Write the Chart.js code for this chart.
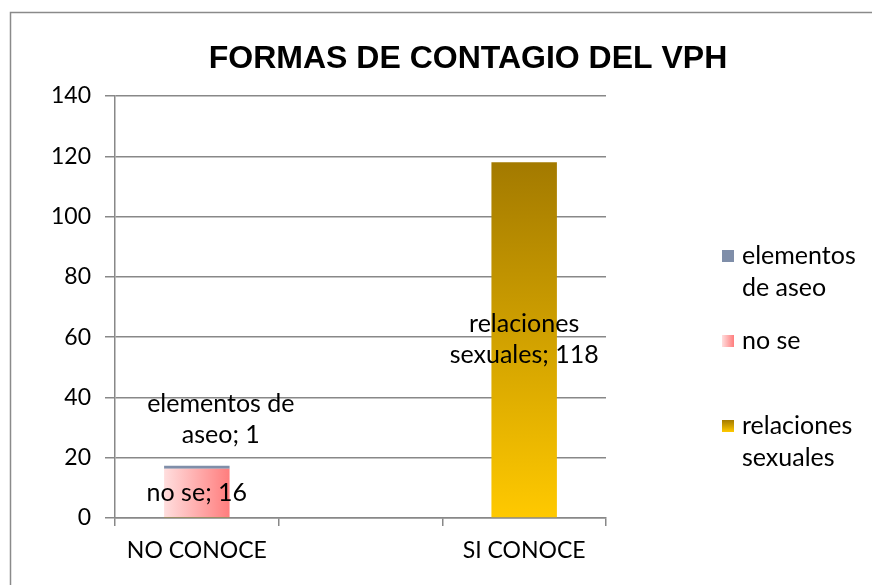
<!DOCTYPE html>
<html>
<head>
<meta charset="utf-8">
<script src="https://cdn.jsdelivr.net/npm/chart.js@4"></script>
<style>
  html, body { margin: 0; padding: 0; background: #fff; }
  #wrap { width: 872px; height: 585px; }
</style>
</head>
<body>
<div id="wrap"><canvas id="c" width="872" height="585"></canvas></div>
<script>
const titleText = "FORMAS DE CONTAGIO DEL VPH";
const categories = ["NO CONOCE", "", "SI CONOCE"];
const seriesNames = ["relaciones sexuales", "no se", "elementos de aseo"];
const relacionesSexuales = [0.3, 0, 118];
const noSe = [16, 0, 0];
const elementosDeAseo = [1, 0, 0];
const yMin = 0, yMax = 140, yStep = 20;

const FONT = "Lato, 'Open Sans', sans-serif";
const GRID = "#888888";

function goldFill(context) {
  const chart = context.chart;
  if (!chart.chartArea || context.type !== "data") return "#e0a800";
  const y = chart.scales.y;
  const top = y.getPixelForValue(context.raw);
  const base = y.getPixelForValue(0);
  if (base - top < 0.5) return "#c88f00";
  const g = chart.ctx.createLinearGradient(0, top, 0, base);
  g.addColorStop(0, "#a37a00");
  g.addColorStop(1, "#ffc900");
  return g;
}

function pinkFill(context) {
  const chart = context.chart;
  if (!chart.chartArea || context.type !== "data") return "#ffaaaa";
  const x = chart.scales.x;
  const cx = x.getPixelForValue(context.dataIndex);
  const w = (x.getPixelForValue(1) - x.getPixelForValue(0)) * 0.4;
  const g = chart.ctx.createLinearGradient(cx - w / 2, 0, cx + w / 2, 0);
  g.addColorStop(0, "#ffdede");
  g.addColorStop(1, "#ff7d7d");
  return g;
}

const seriesColors = [goldFill, pinkFill, "#7f8ea9"];
const seriesValues = [relacionesSexuales, noSe, elementosDeAseo];

function wrap(ctx, text, maxW) {
  const words = text.split(" ");
  const lines = [];
  let cur = "";
  for (const w of words) {
    const t = cur ? cur + " " + w : w;
    if (cur && ctx.measureText(t).width > maxW) { lines.push(cur); cur = w; }
    else cur = t;
  }
  if (cur) lines.push(cur);
  return lines;
}

const decor = {
  id: "decor",
  afterDraw(chart) {
    const ctx = chart.ctx;
    ctx.save();
    // frame
    ctx.strokeStyle = "#8a8a8a";
    ctx.lineWidth = 1.5;
    ctx.strokeRect(10.5, 12.5, 870, 580);
    // title
    ctx.fillStyle = "#000";
    ctx.font = "bold 32px 'Liberation Sans', Arial, sans-serif";
    ctx.textAlign = "center";
    ctx.textBaseline = "middle";
    ctx.fillText(titleText, 468, 59);

    // data labels
    ctx.font = "25px " + FONT;
    const lh = 31;
    chart.data.datasets.forEach((ds, di) => {
      const meta = chart.getDatasetMeta(di);
      meta.data.forEach((bar, i) => {
        const v = ds.data[i];
        if (v < 1) return;
        const lines = wrap(ctx, ds.label + "; " + v, 175);
        const h = bar.base - bar.y;
        let cx = bar.x;
        let cy = (bar.y + bar.base) / 2;
        if (h < lines.length * lh * 0.5) { cy = bar.y - 46; cx = bar.x + 24; }
        lines.forEach((ln, k) => {
          ctx.fillText(ln, cx, cy + (k - (lines.length - 1) / 2) * lh);
        });
      });
    });

    // legend (reverse order, top to bottom)
    ctx.textAlign = "left";
    const order = chart.data.datasets.map((d, i) => i).reverse();
    order.forEach((di, k) => {
      const ds = chart.data.datasets[di];
      const ty = 256 + k * 85;
      const bx = 722, by = ty - 6, bs = 12;
      let fill;
      if (di === 0) {
        fill = ctx.createLinearGradient(0, by, 0, by + bs);
        fill.addColorStop(0, "#a37a00"); fill.addColorStop(1, "#ffc900");
      } else if (di === 1) {
        fill = ctx.createLinearGradient(bx, 0, bx + bs, 0);
        fill.addColorStop(0, "#ffdede"); fill.addColorStop(1, "#ff7d7d");
      } else {
        fill = ds.backgroundColor;
      }
      ctx.fillStyle = fill;
      ctx.fillRect(bx, by, bs, bs);
      ctx.fillStyle = "#000";
      wrap(ctx, ds.label, 125).forEach((ln, j) => ctx.fillText(ln, 742, ty + j * 32));
    });
    ctx.restore();
  }
};

new Chart(document.getElementById("c"), {
  type: "bar",
  data: {
    labels: categories,
    datasets: seriesNames.map((name, i) => ({
      label: name,
      data: seriesValues[i],
      backgroundColor: seriesColors[i],
      borderWidth: 0,
      categoryPercentage: 1,
      barPercentage: 0.4
    }))
  },
  options: {
    responsive: false,
    animation: false,
    layout: { padding: { left: 0, right: 266, top: 96, bottom: 0 } },
    plugins: { legend: { display: false }, tooltip: { enabled: false }, title: { display: false } },
    scales: {
      x: {
        stacked: true,
        grid: { offset: true, drawOnChartArea: false, drawTicks: true, tickLength: 8, color: GRID, lineWidth: 1.5 },
        border: { color: GRID, width: 1.5 },
        ticks: { color: "#000", font: { family: FONT, size: 23 }, padding: 11, maxRotation: 0 },
        afterFit: s => { s.height = 67; }
      },
      y: {
        stacked: true,
        min: yMin, max: yMax,
        grid: { color: GRID, lineWidth: 1.5, tickLength: 10 },
        border: { color: GRID, width: 1.5 },
        ticks: { stepSize: yStep, color: "#000", font: { family: FONT, size: 23 }, padding: 14 },
        afterFit: s => { s.width = 115; }
      }
    }
  },
  plugins: [decor]
});
</script>
</body>
</html>
